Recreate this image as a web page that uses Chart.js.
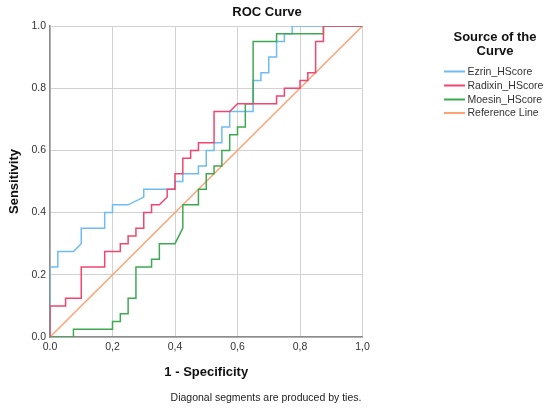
<!DOCTYPE html>
<html>
<head>
<meta charset="utf-8">
<script src="https://cdn.jsdelivr.net/npm/chart.js@4/dist/chart.umd.min.js"></script>
<style>
  html, body { margin: 0; padding: 0; background: #ffffff; }
  #wrap { width: 550px; height: 411px; position: relative; }
</style>
</head>
<body>
<div id="wrap"><canvas id="c" width="550" height="411"></canvas></div>
<script>
// ---- data ----
const seriesNames = ["Ezrin_HScore", "Radixin_HScore", "Moesin_HScore", "Reference Line"];
const xTickValues = [0, 0.2, 0.4, 0.6, 0.8, 1.0];
const xTickLabels = ["0.0", "0,2", "0,4", "0,6", "0,8", "1,0"];
const yTickValues = [0, 0.2, 0.4, 0.6, 0.8, 1.0];
const yTickLabels = ["0.0", "0.2", "0.4", "0.6", "0.8", "1.0"];

const ezrinX = [0,0,0.025,0.025,0.075,0.1,0.1,0.175,0.175,0.2,0.2,0.25,0.3,0.3,0.4,0.4,0.425,0.425,0.475,0.475,0.5,0.5,0.525,0.525,0.55,0.55,0.575,0.575,0.65,0.65,0.675,0.675,0.7,0.7,0.725,0.725,0.75,0.75,0.775,0.775,1];
const ezrinY = [0,0.225,0.225,0.275,0.275,0.3,0.35,0.35,0.4,0.4,0.425,0.425,0.45,0.475,0.475,0.5,0.5,0.525,0.525,0.55,0.55,0.6,0.6,0.625,0.625,0.675,0.675,0.725,0.725,0.825,0.825,0.85,0.85,0.9,0.9,0.95,0.95,0.975,0.975,1,1];

const radixinX = [0,0,0.05,0.05,0.1,0.1,0.175,0.175,0.225,0.225,0.25,0.25,0.275,0.275,0.3,0.3,0.325,0.325,0.35,0.375,0.375,0.4,0.4,0.425,0.425,0.45,0.45,0.475,0.475,0.525,0.525,0.575,0.6,0.725,0.725,0.75,0.75,0.8,0.8,0.825,0.825,0.85,0.85,0.875,0.875,1];
const radixinY = [0,0.1,0.1,0.125,0.125,0.225,0.225,0.275,0.275,0.3,0.3,0.325,0.325,0.35,0.35,0.4,0.4,0.425,0.425,0.45,0.475,0.475,0.525,0.525,0.575,0.575,0.6,0.6,0.625,0.625,0.725,0.725,0.75,0.75,0.775,0.775,0.8,0.8,0.825,0.825,0.85,0.85,0.95,0.95,1,1];

const moesinX = [0,0.075,0.075,0.2,0.2,0.225,0.225,0.25,0.25,0.275,0.275,0.325,0.325,0.35,0.35,0.4,0.425,0.425,0.475,0.475,0.5,0.5,0.525,0.525,0.55,0.55,0.575,0.575,0.6,0.6,0.625,0.625,0.65,0.65,0.725,0.725,0.875,0.875,1];
const moesinY = [0,0,0.025,0.025,0.05,0.05,0.075,0.075,0.125,0.125,0.225,0.225,0.25,0.25,0.3,0.3,0.35,0.425,0.425,0.475,0.475,0.525,0.525,0.55,0.55,0.6,0.6,0.65,0.65,0.675,0.675,0.75,0.75,0.95,0.95,0.975,0.975,1,1];

const referenceX = [0, 1];
const referenceY = [0, 1];

const seriesColors = ["#6fbcf2", "#f2456f", "#3fa852", "#ffa274"];

// ---- build ----
function pts(xs, ys) { return xs.map((x, i) => ({ x: x, y: ys[i] })); }
const allX = [ezrinX, radixinX, moesinX, referenceX];
const allY = [ezrinY, radixinY, moesinY, referenceY];

const FONT = '"Liberation Sans", Arial, Helvetica, sans-serif';

const datasets = seriesNames.map((name, i) => ({
  label: name,
  data: pts(allX[i], allY[i]),
  showLine: true,
  borderColor: seriesColors[i],
  backgroundColor: seriesColors[i],
  borderWidth: 1.5,
  pointRadius: 0,
  tension: 0,
  fill: false,
  order: [3, 1, 2, 4][i]
}));

const textPlugin = {
  id: 'texts',
  afterDraw(chart) {
    const ctx = chart.ctx;
    const a = chart.chartArea;
    ctx.save();
    ctx.fillStyle = '#111';
    ctx.textAlign = 'center';
    ctx.textBaseline = 'middle';
    ctx.font = 'bold 13px ' + FONT;
    ctx.fillText('ROC Curve', 267, 12);
    ctx.fillText('1 - Specificity', (a.left + a.right) / 2, 372);
    ctx.save();
    ctx.translate(14, (a.top + a.bottom) / 2);
    ctx.rotate(-Math.PI / 2);
    ctx.fillText('Sensitivity', 0, 0);
    ctx.restore();
    ctx.font = '10.5px ' + FONT;
    ctx.fillStyle = '#222';
    ctx.fillText('Diagonal segments are produced by ties.', 266, 398);

    // legend
    ctx.font = 'bold 13px ' + FONT;
    ctx.fillStyle = '#111';
    ctx.fillText('Source of the', 495, 37);
    ctx.fillText('Curve', 495, 51);
    ctx.font = '10.5px ' + FONT;
    ctx.textAlign = 'left';
    const ys = [71.5, 85.5, 99.5, 113];
    seriesNames.forEach((n, i) => {
      ctx.strokeStyle = seriesColors[i];
      ctx.lineWidth = 2;
      ctx.beginPath();
      ctx.moveTo(444, ys[i]);
      ctx.lineTo(465, ys[i]);
      ctx.stroke();
      ctx.fillStyle = '#333';
      ctx.fillText(n, 467.5, ys[i] + 0.5);
    });
    ctx.restore();
  }
};

new Chart(document.getElementById('c'), {
  type: 'scatter',
  data: { datasets: datasets },
  options: {
    responsive: false,
    animation: false,
    devicePixelRatio: 1,
    layout: { padding: { left: 0, right: 187.5, top: 26, bottom: 0 } },
    plugins: {
      legend: { display: false },
      tooltip: { enabled: false },
      title: { display: false }
    },
    scales: {
      x: {
        type: 'linear', min: 0, max: 1,
        afterBuildTicks: (s) => { s.ticks = xTickValues.map(v => ({ value: v })); },
        afterFit: (s) => { s.height = 74; },
        ticks: {
          callback: (v, i) => xTickLabels[i],
          font: { family: FONT, size: 10.5 }, color: '#333', padding: 4, maxRotation: 0
        },
        grid: { color: '#d2d2d2', lineWidth: 1, drawTicks: false },
        border: { color: '#8c8c8c', width: 1.5 }
      },
      y: {
        type: 'linear', min: 0, max: 1,
        afterBuildTicks: (s) => { s.ticks = yTickValues.map(v => ({ value: v })); },
        afterFit: (s) => { s.width = 50; },
        ticks: {
          callback: (v, i) => yTickLabels[i],
          font: { family: FONT, size: 10.5 }, color: '#333', padding: 4
        },
        grid: { color: '#d2d2d2', lineWidth: 1, drawTicks: false },
        border: { color: '#8c8c8c', width: 1.5 }
      }
    }
  },
  plugins: [textPlugin]
});
</script>
</body>
</html>
